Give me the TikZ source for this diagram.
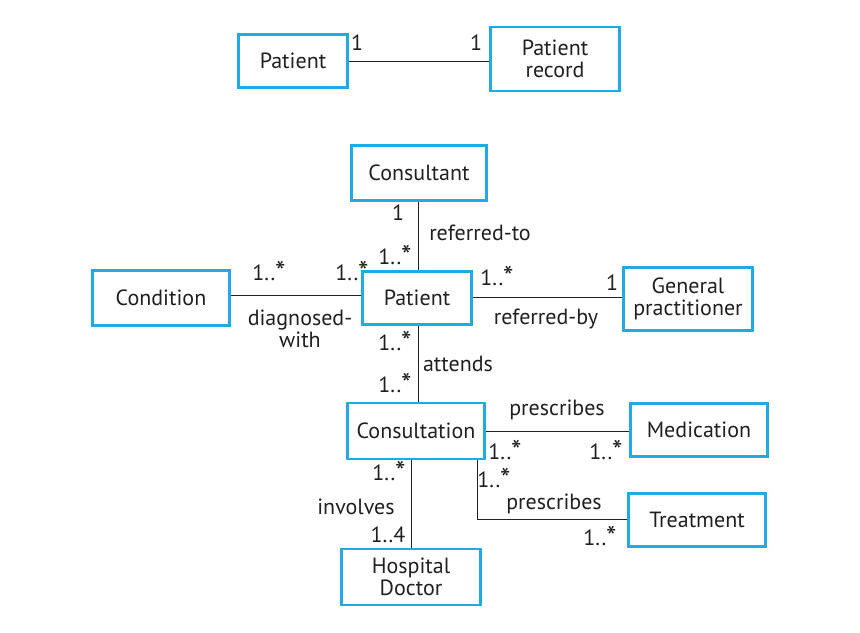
\documentclass[tikz,border=0pt]{standalone}
\usepackage{fontspec}
\setmainfont{PT Sans}
\usepackage{tikz}

\definecolor{boxblue}{RGB}{30,170,228}
\definecolor{ink}{RGB}{35,31,32}

\newcommand{\many}{1..\raisebox{-0.15ex}{\scalebox{1.35}{*}}}

\tikzset{
    cls/.style={draw=boxblue, line width=1.9pt, align=center, inner sep=2pt},
    assoc/.style={draw=ink, line width=0.7pt},
    lbl/.style={text=ink, inner sep=0pt, align=center}
}

\begin{document}
\begin{tikzpicture}[x=0.75pt, y=-0.75pt, font=\fontsize{16.5pt}{16.5pt}\selectfont, text=ink]
    \useasboundingbox (0,0) rectangle (860,632);

    % Classes
    \node[cls, minimum width=82pt, minimum height=40pt] (pat1) at (293,61) {Patient};
    \node[cls, minimum width=97pt, minimum height=48pt] (rec) at (555,59) {Patient\\record};
    \node[cls, minimum width=101pt, minimum height=41pt] (cons) at (419,173) {Consultant};
    \node[cls, minimum width=103pt, minimum height=41pt] (cond) at (161,298) {Condition};
    \node[cls, minimum width=82pt, minimum height=40pt] (pat) at (417,298) {Patient};
    \node[cls, minimum width=97pt, minimum height=47pt] (gp) at (688,299) {General\\practitioner};
    \node[cls, minimum width=103pt, minimum height=42pt] (visit) at (416,431) {Consultation};
    \node[cls, minimum width=103pt, minimum height=40pt] (med) at (699,430) {Medication};
    \node[cls, minimum width=103pt, minimum height=40pt] (treat) at (697,520) {Treatment};
    \node[cls, minimum width=104pt, minimum height=42pt] (doc) at (411,577) {Hospital\\Doctor};

    % Associations
    \draw[assoc] (pat1.east) -- (rec.west |- pat1.east);
    \draw[assoc] (cons.south -| 418,0) -- (pat.north -| 418,0);
    \draw[assoc] (cond.east |- 0,295) -- (pat.west |- 0,295);
    \draw[assoc] (pat.east |- 0,297) -- (gp.west |- 0,297);
    \draw[assoc] (pat.south -| 418,0) -- (visit.north -| 418,0);
    \draw[assoc] (visit.east |- 0,431) -- (med.west |- 0,431);
    \draw[assoc] (visit.south -| 477,0) |- (treat.west |- 0,519);
    \draw[assoc] (visit.south -| 411,0) -- (doc.north -| 411,0);

    % Multiplicities and names
    \node[lbl] (m1) at (357,43) {1};
    \node[lbl] (m2) at (476,43) {1};
    \node[lbl] (m3) at (398,213) {1};
    \node[lbl] (m4) at (395,256) {\many};
    \node[lbl] (n1) at (480,233) {referred-to};
    \node[lbl] (m5) at (269,272) {\many};
    \node[lbl] (m6) at (352,272) {\many};
    \node[lbl] (n2) at (300,329) {diagnosed-\\with};
    \node[lbl] (m7) at (497,277) {\many};
    \node[lbl] (m8) at (612,283) {1};
    \node[lbl] (n3) at (546,319) {referred-by};
    \node[lbl] (m9) at (395,342) {\many};
    \node[lbl] (n4) at (458,364) {attends};
    \node[lbl] (m10) at (395,384) {\many};
    \node[lbl] (n5) at (557,410) {prescribes};
    \node[lbl] (m11) at (505,451) {\many};
    \node[lbl] (m12) at (606,451) {\many};
    \node[lbl] (m13) at (494,479) {\many};
    \node[lbl] (n6) at (554,504) {prescribes};
    \node[lbl] (m14) at (600,537) {\many};
    \node[lbl] (m15) at (389,472) {\many};
    \node[lbl] (n7) at (356,507) {involves};
    \node[lbl] (m16) at (388,535) {1..4};
\end{tikzpicture}
\end{document}
